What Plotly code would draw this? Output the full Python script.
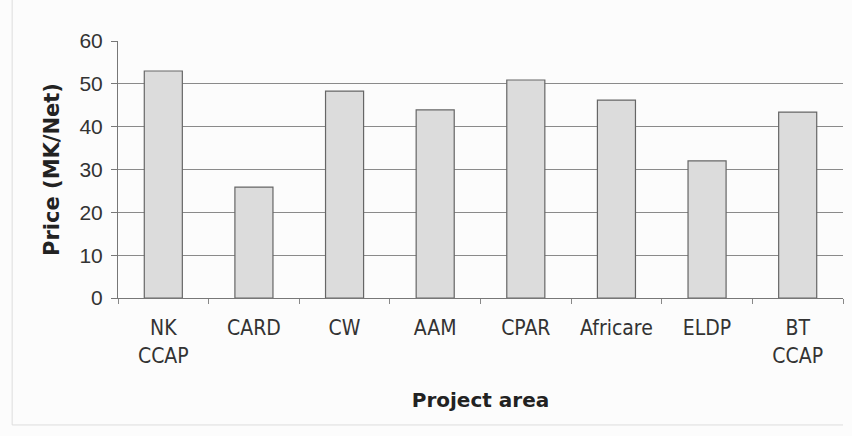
import plotly.graph_objects as go

# Project areas and net prices (MK per net)
areas = ["NK<br>CCAP", "CARD", "CW", "AAM", "CPAR", "Africare", "ELDP", "BT<br>CCAP"]
prices = [53.0, 25.9, 48.3, 43.9, 50.9, 46.2, 32.0, 43.4]
y_ticks = [0, 10, 20, 30, 40, 50, 60]

fig = go.Figure()
fig.add_trace(go.Bar(
    x=areas,
    y=prices,
    marker=dict(color="#dcdcdc", line=dict(color="#666666", width=1.2)),
    width=0.42,
))

fig.update_layout(
    width=852,
    height=436,
    margin=dict(l=118, r=9, t=41, b=138),
    paper_bgcolor="#fcfcfc",
    plot_bgcolor="#fcfcfc",
    showlegend=False,
    xaxis=dict(
        showline=True, linecolor="#777777", linewidth=1,
        ticks="outside", tickson="boundaries", ticklen=5, tickcolor="#888888",
        ticklabelstandoff=11,
        tickfont=dict(family="DejaVu Sans Condensed, DejaVu Sans", size=21, color="#333333"),
        title=dict(text="<b>Project area</b>", standoff=26,
                   font=dict(family="DejaVu Sans", size=20, color="#222222")),
    ),
    yaxis=dict(
        range=[0, 60], tickvals=y_ticks,
        showline=True, linecolor="#777777", linewidth=1,
        ticks="outside", ticklen=6, tickcolor="#777777",
        ticklabelstandoff=4,
        showgrid=True, gridcolor="#8a8a8a", gridwidth=1,
        zeroline=False,
        tickfont=dict(family="Liberation Sans, Arial", size=21, color="#333333"),
        title=dict(text="<b>Price (MK/Net)</b>", standoff=14,
                   font=dict(family="DejaVu Sans", size=21, color="#222222")),
    ),
)

# faint left and bottom edges of the chart frame
fig.add_shape(type="line", xref="paper", yref="paper",
              x0=-0.146, x1=-0.146, y0=-0.494, y1=1.16,
              line=dict(color="#dddddd", width=1), layer="below")
fig.add_shape(type="line", xref="paper", yref="paper",
              x0=-0.146, x1=1.0, y0=-0.494, y1=-0.494,
              line=dict(color="#dddddd", width=1), layer="below")

fig.write_html("out.html")
